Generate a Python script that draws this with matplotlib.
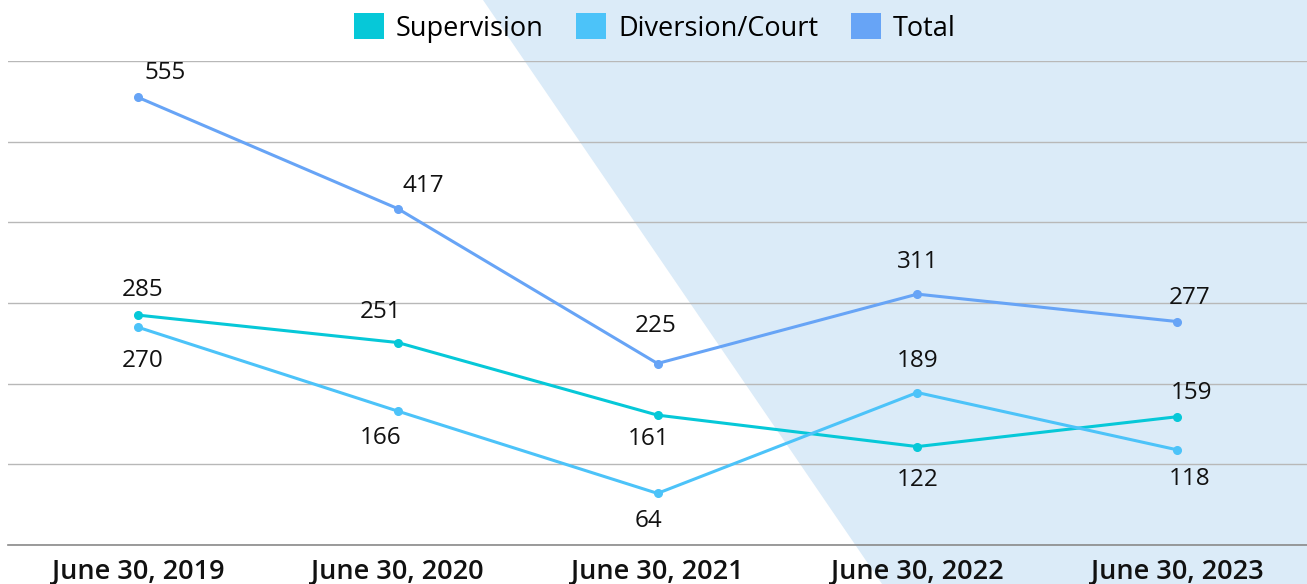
import matplotlib
matplotlib.use("Agg")
import matplotlib.pyplot as plt
from matplotlib.patches import Polygon, Patch

categories = ["June 30, 2019", "June 30, 2020", "June 30, 2021", "June 30, 2022", "June 30, 2023"]
supervision = [285, 251, 161, 122, 159]
diversion = [270, 166, 64, 189, 118]
total = [555, 417, 225, 311, 277]

series_names = ["Supervision", "Diversion/Court", "Total"]
colors = ["#06c8d8", "#4cc3f9", "#67a4f6"]

# label offsets in pixels (dx, dy up-positive)
off_sup = [(5, 25), (-17, 31), (-9, -24), (0, -33), (14, 24)]
off_div = [(5, -34), (-17, -27), (-9, -28), (0, 32), (13, -29)]
off_tot = [(27, 24), (26, 23), (-2, 38), (0, 32), (13, 24)]

plt.rcParams['font.family'] = ['Open Sans', 'DejaVu Sans']

W, H = 1307, 584
fig = plt.figure(figsize=(W / 100, H / 100), dpi=100)

ax = fig.add_axes([8 / W, 1 - 545 / H, (W - 8) / W, (545 - 61) / H])
ax.set_facecolor("none")

# background diagonal panel
poly = Polygon([(483 / W, 1.0), (1.0, 1.0), (1.0, 0.0), (882 / W, 0.0)],
               closed=True, transform=fig.transFigure, facecolor="#dbebf8",
               edgecolor="none", zorder=0.1, clip_on=False)
ax.add_patch(poly)

ax.set_xlim(-0.5, 4.5)
ax.set_ylim(0, 600)
ax.set_yticks(range(0, 601, 100))
ax.yaxis.grid(True, color="#b8b8b8", linewidth=1.0, zorder=0.5)
ax.set_axisbelow(True)
ax.tick_params(axis="y", length=0, labelleft=False)
for s in ["left", "right", "top"]:
    ax.spines[s].set_visible(False)
ax.spines["bottom"].set_color("#8a8a8a")
ax.spines["bottom"].set_linewidth(1.2)

x = list(range(len(categories)))
ax.set_xticks(x)
ax.set_xticklabels(categories, fontsize=19.5, fontweight="semibold", color="#111111")
ax.tick_params(axis="x", length=0, pad=9.5)

for vals, col, offs in [(supervision, colors[0], off_sup),
                        (diversion, colors[1], off_div),
                        (total, colors[2], off_tot)]:
    ax.plot(x, vals, color=col, linewidth=2.2, marker="o", markersize=5.5, zorder=3)
    for xi, v, (dx, dy) in zip(x, vals, offs):
        ax.annotate(str(v), (xi, v), xytext=(dx * 0.72, dy * 0.72), textcoords="offset points",
                    ha="center", va="center", fontsize=17.5, color="#111111", zorder=4)

handles = [Patch(facecolor=c, edgecolor="none") for c in colors]
fig.legend(handles, series_names, loc="center", bbox_to_anchor=(655 / W, 1 - 28 / H),
           ncol=3, frameon=False, fontsize=19.5, handlelength=1.1, handleheight=1.1,
           handletextpad=0.45, columnspacing=1.2)

fig.savefig("out.png", dpi=100)
